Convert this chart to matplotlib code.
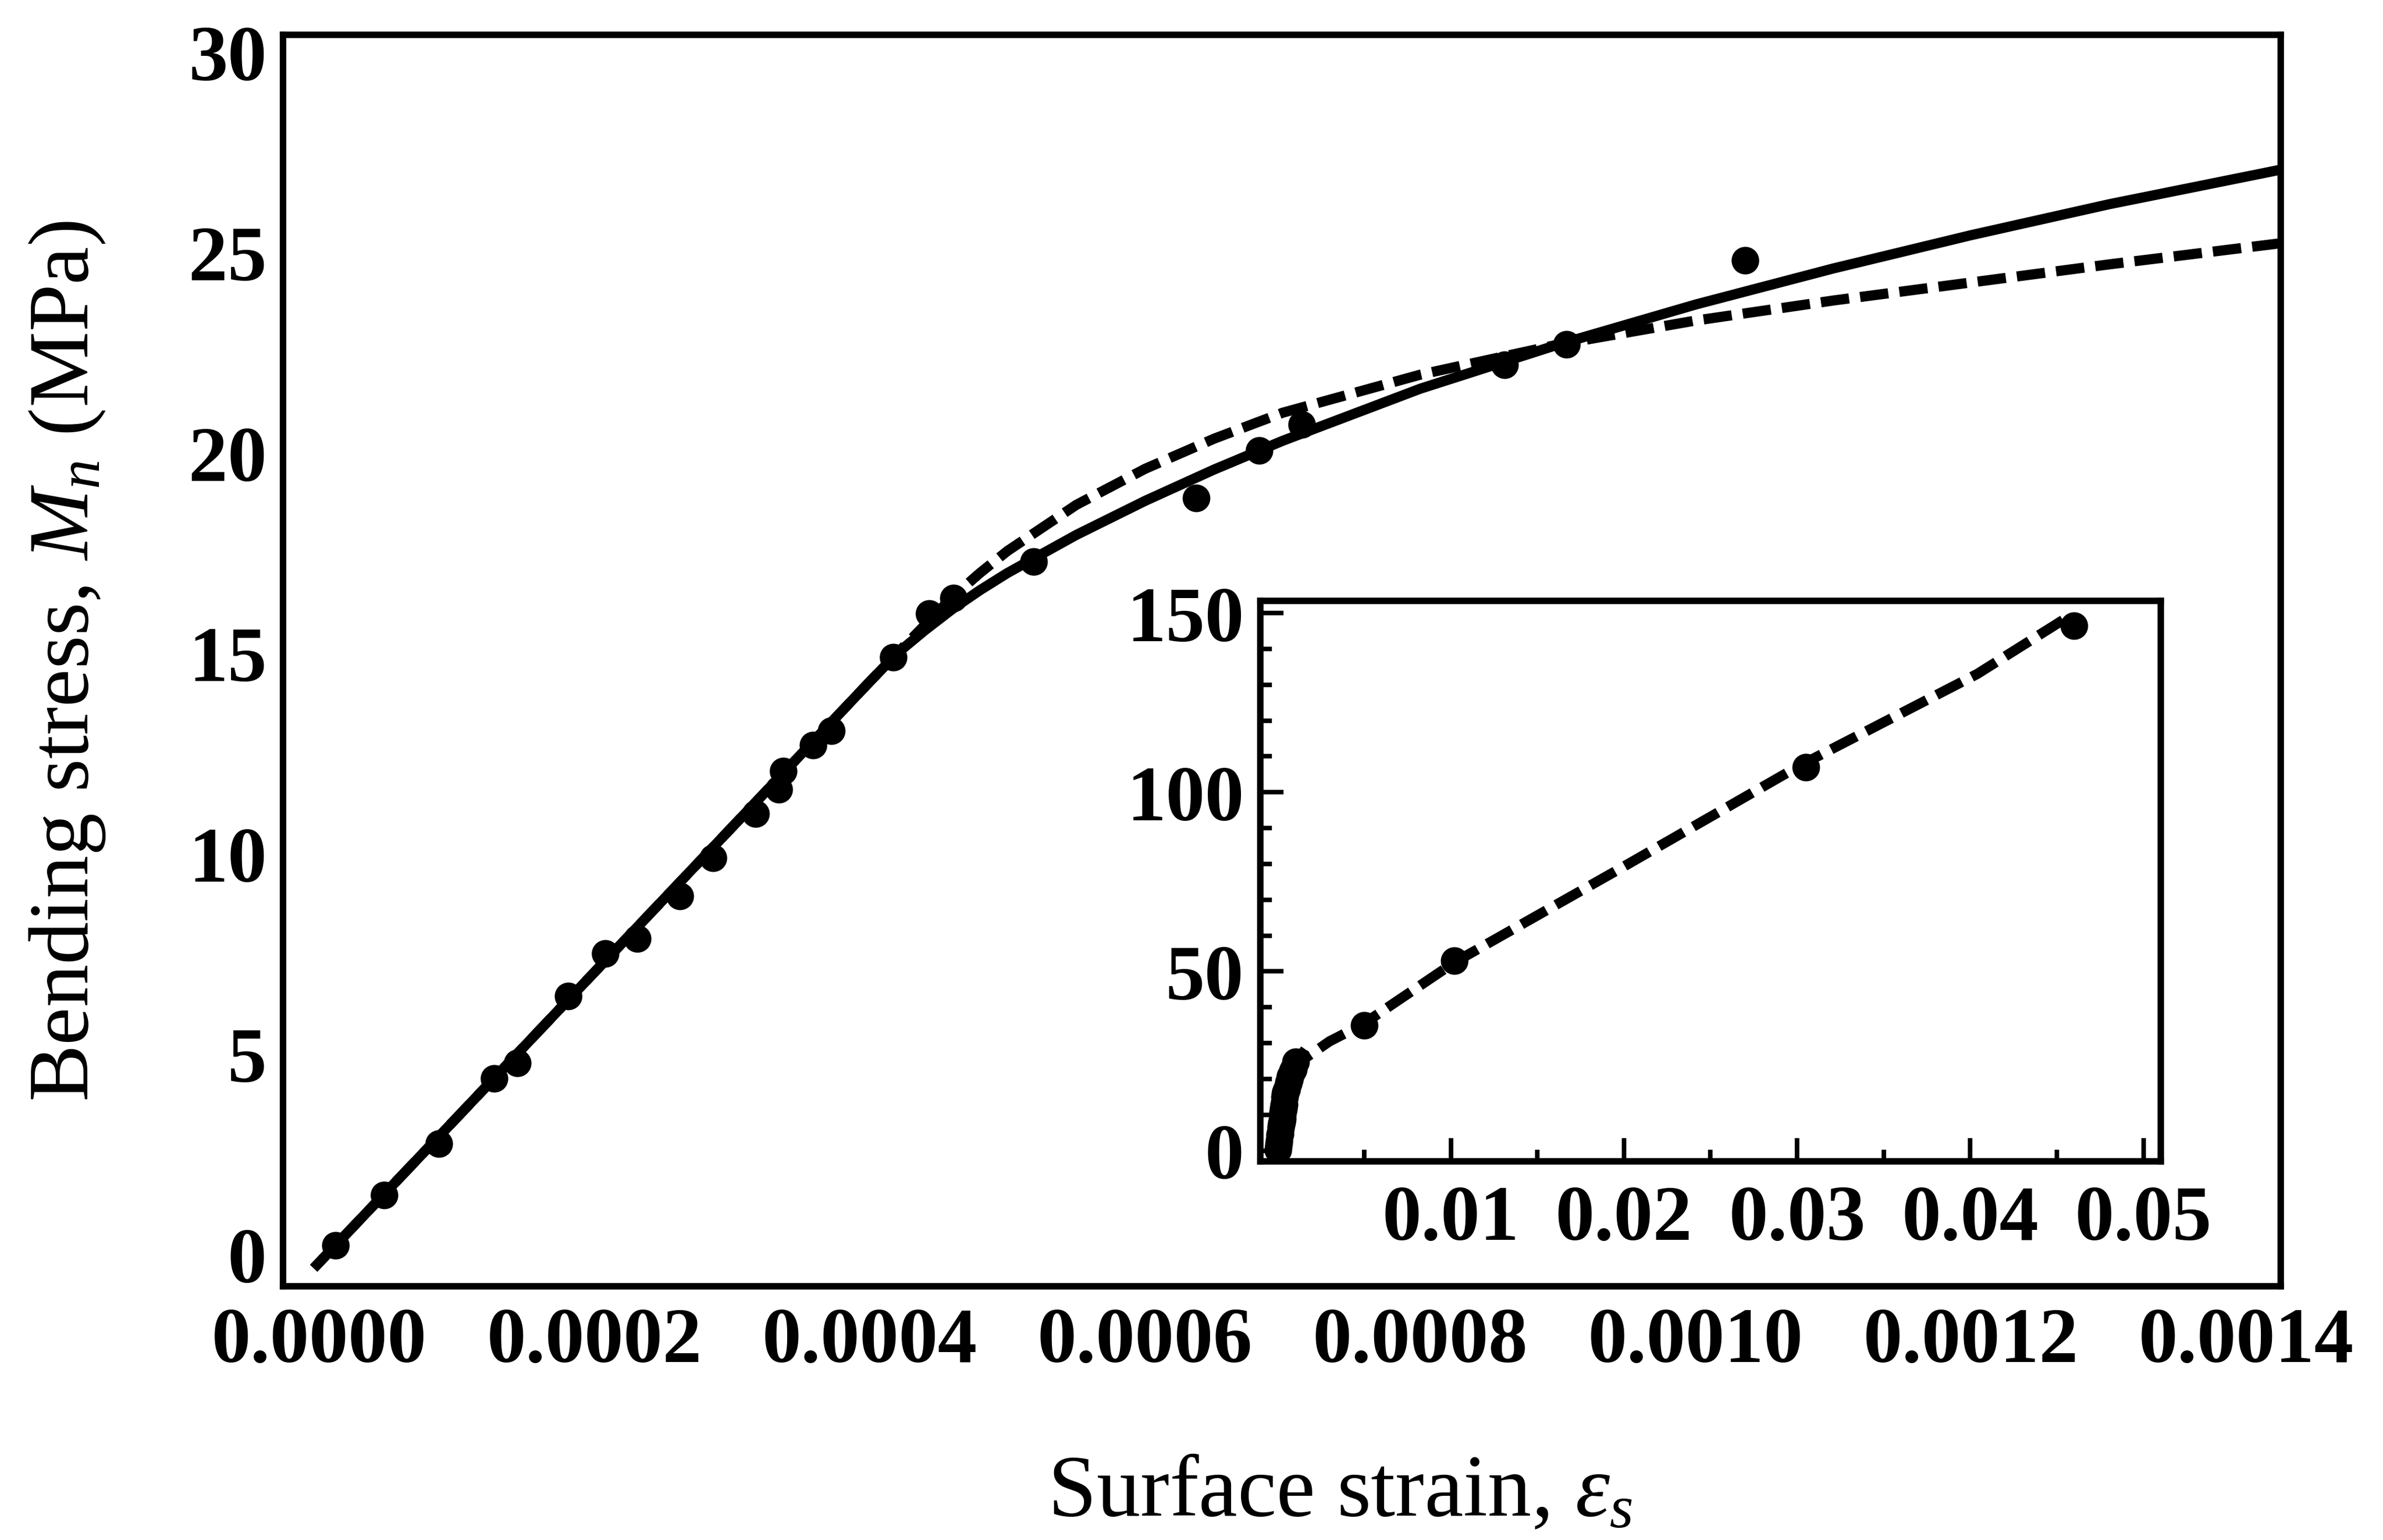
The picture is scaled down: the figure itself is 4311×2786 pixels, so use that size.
import matplotlib
matplotlib.use("Agg")
import matplotlib.pyplot as plt
from matplotlib.ticker import FixedLocator, MultipleLocator

plt.rcParams['font.family'] = ['Liberation Serif', 'DejaVu Serif']
plt.rcParams['mathtext.fontset'] = 'custom'
plt.rcParams['mathtext.rm'] = 'Liberation Serif'
plt.rcParams['mathtext.it'] = 'Liberation Serif:italic'
plt.rcParams['mathtext.bf'] = 'Liberation Serif:bold'

# measured bending tests: surface strain vs bending stress (MPa)
strain_pts = [0.000012, 0.000047, 0.000087, 0.000127, 0.000144, 0.000181, 0.000208,
              0.000231, 0.000262, 0.000286, 0.000317, 0.000334, 0.000337, 0.000359,
              0.000372, 0.000417, 0.000443, 0.000461, 0.000519, 0.000637, 0.000683,
              0.000714, 0.000861, 0.000906, 0.001036]
stress_pts = [0.22, 1.47, 2.76, 4.39, 4.77, 6.44, 7.50, 7.88, 8.94, 9.89, 10.99, 11.60,
              12.05, 12.70, 13.07, 14.90, 15.99, 16.37, 17.28, 18.87, 20.05, 20.70,
              22.20, 22.70, 24.80]

# large-strain tests shown only in the inset
strain_large = [0.0050, 0.0102, 0.0305, 0.0460]
stress_large = [35.0, 53.0, 107.0, 146.5]

# solid model curve
fit_x = [-0.000004, 0.0001, 0.0002, 0.0003, 0.0004, 0.00042, 0.00044, 0.00046, 0.00048,
         0.0005, 0.00055, 0.0006, 0.00065, 0.0007, 0.0008, 0.0009, 0.001, 0.0011,
         0.0012, 0.0013, 0.00143]
fit_y = [-0.35, 3.41, 7.04, 10.66, 14.29, 15.0, 15.57, 16.1, 16.57, 17.0, 17.95, 18.8,
         19.58, 20.3, 21.6, 22.7, 23.7, 24.6, 25.43, 26.2, 27.1]

# dashed model curve
alt_x = [-0.000004, 0.0001, 0.0002, 0.0003, 0.0004, 0.00042, 0.00044, 0.00046, 0.00048,
         0.0005, 0.00055, 0.0006, 0.00065, 0.0007, 0.0008, 0.0009, 0.001, 0.0011,
         0.0012, 0.0013, 0.00143]
alt_y = [-0.35, 3.41, 7.04, 10.66, 14.29, 15.0, 15.7, 16.4, 17.0, 17.55, 18.7, 19.6,
         20.35, 21.0, 21.95, 22.7, 23.3, 23.8, 24.25, 24.7, 25.25]

# dashed model continued to large strain
alt_ext_x = [0.0030, 0.0049, 0.0102, 0.0200, 0.0301, 0.0404, 0.0455]
alt_ext_y = [30.5, 35.2, 52.5, 79.3, 107.3, 133.0, 148.5]

main_xticks = [0.0, 0.0002, 0.0004, 0.0006, 0.0008, 0.0010, 0.0012, 0.0014]
main_xlabels = ['0.0000', '0.0002', '0.0004', '0.0006', '0.0008', '0.0010', '0.0012', '0.0014']
main_yticks = [0, 5, 10, 15, 20, 25, 30]
inset_xticks = [0.01, 0.02, 0.03, 0.04, 0.05]
inset_xlabels = ['0.01', '0.02', '0.03', '0.04', '0.05']
inset_yticks = [0, 50, 100, 150]

W, H, DPI = 4311, 2787, 300
fig = plt.figure(figsize=(W / DPI, H / DPI), dpi=DPI)

LW_FRAME = 2.8
LW_CURVE = 4.4
DASH = (0, (2.8, 1.1))
MS = 11
tick_font = dict(family='Liberation Serif', weight='bold', size=34)

ax = fig.add_axes([512 / W, 1 - 2328 / H, (4126 - 512) / W, (2328 - 64) / H])
ax.plot(fit_x, fit_y, color='black', lw=LW_CURVE, solid_capstyle='butt', zorder=3)
ax.plot(alt_x, alt_y, color='black', lw=LW_CURVE, linestyle=DASH, zorder=3)
ax.plot(strain_pts, stress_pts, 'o', color='black', ms=MS, zorder=4)
ax.set_xlim(-0.0000263, 0.001425)
ax.set_ylim(-0.8, 30.43)
ax.xaxis.set_major_locator(FixedLocator(main_xticks))
ax.set_xticklabels(main_xlabels)
ax.yaxis.set_major_locator(FixedLocator(main_yticks))
ax.set_yticklabels([str(v) for v in main_yticks])
ax.tick_params(axis='both', which='both', length=0, width=0)
ax.tick_params(axis='x', pad=9)
ax.tick_params(axis='y', pad=7)
for lab in ax.get_xticklabels() + ax.get_yticklabels():
    lab.set_fontproperties(tick_font)
for sp in ax.spines.values():
    sp.set_linewidth(LW_FRAME)

ax.set_xlabel(r'Surface strain, $\varepsilon_s$', fontsize=38)
ax.xaxis.set_label_coords(0.529, -0.134)
ax.set_ylabel(r'Bending stress, $M_n$ (MPa)', fontsize=37)
ax.yaxis.set_label_coords(-0.088, 0.5)

# inset with the full strain range
ins = fig.add_axes([2280 / W, 1 - 2102 / H, (3909 - 2280) / W, (2102 - 1088) / H])
ins.set_facecolor('white')
ins.plot(fit_x, fit_y, color='black', lw=LW_CURVE, zorder=3)
ins.plot(alt_x + alt_ext_x, alt_y + alt_ext_y, color='black', lw=LW_CURVE,
         linestyle=DASH, zorder=3)
ins.plot(strain_pts, stress_pts, 'o', color='black', ms=MS, zorder=4)
ins.plot(strain_large, stress_large, 'o', color='black', ms=MS, zorder=4)
ins.set_xlim(-0.001, 0.051)
ins.set_ylim(-3, 153.4)
ins.xaxis.set_major_locator(FixedLocator(inset_xticks))
ins.set_xticklabels(inset_xlabels)
ins.xaxis.set_minor_locator(FixedLocator([0.005, 0.015, 0.025, 0.035, 0.045]))
ins.yaxis.set_major_locator(FixedLocator(inset_yticks))
ins.set_yticklabels([str(v) for v in inset_yticks])
ins.yaxis.set_minor_locator(MultipleLocator(10))
ins.tick_params(axis='both', which='major', direction='in', length=10, width=2)
ins.tick_params(axis='both', which='minor', direction='in', length=5, width=2)
ins.tick_params(axis='x', which='major', pad=10)
ins.tick_params(axis='y', which='major', pad=7)
for lab in ins.get_xticklabels() + ins.get_yticklabels():
    lab.set_fontproperties(tick_font)
for sp in ins.spines.values():
    sp.set_linewidth(LW_FRAME)

fig.savefig('out.png', dpi=DPI, facecolor='white')
